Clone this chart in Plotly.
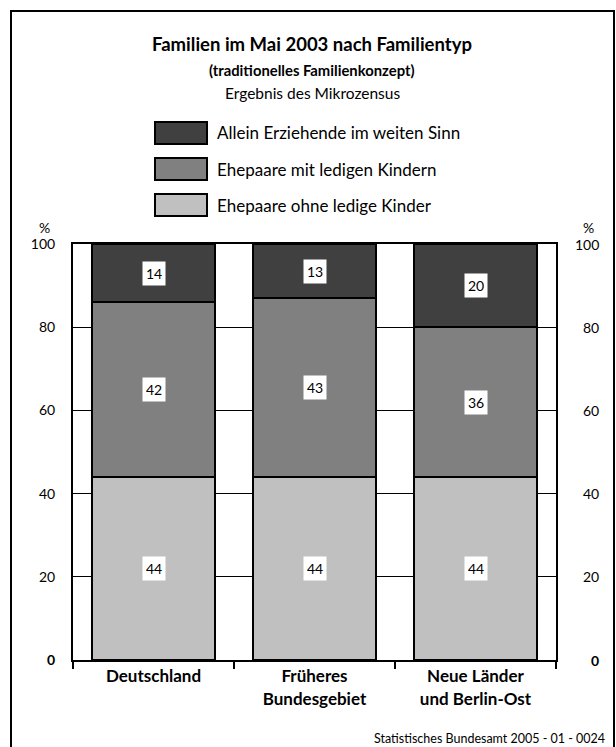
import plotly.graph_objects as go

# Daten (Anteile in %)
kategorien = ['<b>Deutschland</b>', '<b>Früheres<br>Bundesgebiet</b>', '<b>Neue Länder<br>und Berlin-Ost</b>']
ohne_kinder = [44, 44, 44]
mit_kindern = [42, 43, 36]
allein_erziehend = [14, 13, 20]

serien = ['Ehepaare ohne ledige Kinder', 'Ehepaare mit ledigen Kindern', 'Allein Erziehende im weiten Sinn']
farben = ['#c0c0c0', '#808080', '#404040']
werte = [ohne_kinder, mit_kindern, allein_erziehend]

y_ticks = [0, 20, 40, 60, 80, 100]
y_ticktext = ['<b>0</b>', '20', '40', '60', '80', '100']

schrift = 'Lato, Open Sans, sans-serif'

# Plotbereich in Pixeln (fuer Papierkoordinaten)
L, R, T, B = 73, 556, 244, 660


def px(x):
    return (x - L) / (R - L)


def py(y):
    return (B - y) / (B - T)


fig = go.Figure()

for name, farbe, w in zip(serien, farben, werte):
    fig.add_trace(go.Bar(
        x=kategorien,
        y=w,
        name=name,
        marker_color=farbe,
        marker_line=dict(color='black', width=2),
        showlegend=False,
        hoverinfo='skip'
    ))

# Datenbeschriftungen mit weissem Hintergrund
for i, kat in enumerate(kategorien):
    basis = 0
    for w in werte:
        fig.add_annotation(
            x=kat, y=basis + w[i] / 2, xref='x', yref='y',
            text=str(w[i]), showarrow=False,
            font=dict(size=14, color='black', family=schrift),
            bgcolor='white', borderpad=3
        )
        basis += w[i]

# Legende von Hand
leg_y = [205, 169, 133]
for name, farbe, ly in zip(serien, farben, leg_y):
    fig.add_shape(type='rect', xref='paper', yref='paper',
                  x0=px(155), x1=px(207),
                  y0=py(ly + 11), y1=py(ly - 11),
                  fillcolor=farbe, line=dict(color='black', width=2))
    fig.add_annotation(x=px(215), y=py(ly), xref='paper', yref='paper',
                       text=name, showarrow=False, xanchor='left', yanchor='middle',
                       font=dict(size=17, family=schrift, color='black'))

# Titel
titel = [
    ('<b>Familien im Mai 2003 nach Familientyp</b>', 18.5, 44),
    ('<b>(traditionelles Familienkonzept)</b>', 14.8, 70),
    ('Ergebnis des Mikrozensus', 15.5, 93),
]
for text, groesse, ty in titel:
    fig.add_annotation(x=px(312), y=py(ty), xref='paper', yref='paper', showarrow=False,
                       xanchor='center', yanchor='middle', text=text,
                       font=dict(size=groesse, family=schrift, color='black'))

# Prozentzeichen
for xx in [44, 588]:
    fig.add_annotation(x=px(xx), y=py(227), xref='paper', yref='paper',
                       showarrow=False, text='%', xanchor='center', yanchor='middle',
                       font=dict(size=14, family=schrift, color='black'))

# rechte Achsenbeschriftung
for v, t in zip(y_ticks, y_ticktext):
    fig.add_annotation(x=px(601), y=v, xref='paper', yref='y', showarrow=False,
                       text=t, xanchor='right', yanchor='middle',
                       font=dict(size=14, family=schrift, color='black'))

# Quelle
fig.add_annotation(x=px(607), y=py(738), xref='paper', yref='paper',
                   showarrow=False, text='Statistisches Bundesamt 2005 - 01 - 0024',
                   xanchor='right', yanchor='middle',
                   font=dict(size=12.5, family=schrift, color='black'))

# Rahmen
fig.add_shape(type='rect', xref='paper', yref='paper', layer='below',
              x0=px(11), x1=px(614), y0=py(760), y1=py(11),
              line=dict(color='black', width=2))

fig.update_layout(
    width=616,
    height=747,
    margin=dict(l=L, r=616 - R, t=T, b=747 - B),
    barmode='stack',
    bargap=0.242,
    plot_bgcolor='white',
    paper_bgcolor='white',
    font=dict(family=schrift, color='black'),
    xaxis=dict(
        tickson='boundaries',
        ticks='outside',
        ticklen=7,
        tickwidth=2,
        tickcolor='black',
        showline=True,
        linecolor='black',
        linewidth=2,
        mirror=True,
        tickfont=dict(size=17, family=schrift, color='black'),
        showgrid=False
    ),
    yaxis=dict(
        range=[0, 100],
        tickvals=y_ticks,
        ticktext=y_ticktext,
        showgrid=True,
        gridcolor='black',
        gridwidth=1,
        showline=True,
        linecolor='black',
        linewidth=2,
        mirror=True,
        ticks='',
        ticklabelstandoff=13,
        tickfont=dict(size=14, family=schrift, color='black'),
        zeroline=False
    )
)

fig.write_html('out.html', config={'displayModeBar': False},
               post_script="document.body.style.margin='0px';")
